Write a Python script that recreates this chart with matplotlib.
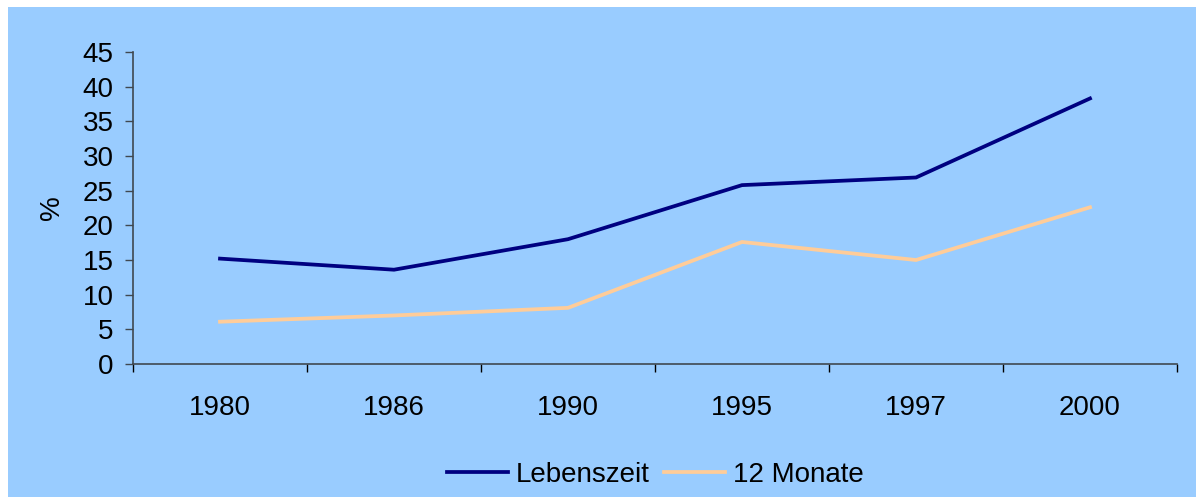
import numpy as np
import matplotlib.pyplot as plt
from matplotlib.patches import Rectangle
from matplotlib.ticker import FixedLocator, MultipleLocator

plt.rcParams['font.family'] = ['Liberation Sans', 'DejaVu Sans']

# data
years = ['1980', '1986', '1990', '1995', '1997', '2000']
lebenszeit = [15.2, 13.6, 18.0, 25.8, 26.9, 38.3]
monate_12 = [6.1, 7.0, 8.1, 17.6, 15.0, 22.6]

bg = '#99CCFF'
axis_col = '#404850'

fig = plt.figure(figsize=(11.96, 4.97), dpi=100)
fig.patch.set_facecolor('white')
# blue chart area (white strip on top and left like the original)
fig.patches.append(Rectangle((8 / 1196, 0), 1 - 8 / 1196, 1 - 7 / 497,
                             transform=fig.transFigure, facecolor=bg,
                             edgecolor='none', zorder=-10))

ax = fig.add_axes([133 / 1196, 1 - 364 / 497, (1177 - 133) / 1196, (364 - 52) / 497])
ax.set_facecolor(bg)
ax.set_zorder(5)

x = np.arange(len(years))
ax.plot(x, lebenszeit, color='#000080', lw=2.7, label='Lebenszeit', solid_joinstyle='miter')
ax.plot(x, monate_12, color='#FFCC99', lw=2.7, label='12 Monate', solid_joinstyle='miter')

ax.set_xlim(-0.5, len(years) - 0.5)
ax.set_ylim(0, 45)
ax.yaxis.set_major_locator(MultipleLocator(5))

ax.set_xticks(x)
ax.set_xticklabels(years)
ax.xaxis.set_minor_locator(FixedLocator(np.arange(-0.5, len(years), 1.0)))
ax.tick_params(axis='x', which='major', length=0, pad=22, labelsize=20)
ax.tick_params(axis='x', which='minor', length=6, width=1, color='black', direction='out')
ax.tick_params(axis='y', length=6, width=1, color=axis_col, labelsize=20, pad=8)

for side in ['top', 'right']:
    ax.spines[side].set_visible(False)
for side in ['left', 'bottom']:
    ax.spines[side].set_color(axis_col)
    ax.spines[side].set_linewidth(1.2)

fig.text(52 / 1196, 1 - 208 / 497, '%', rotation=90, fontsize=20,
         ha='center', va='center')

leg = fig.legend(loc='center', bbox_to_anchor=(0.548, 1 - 475 / 497), ncol=2,
                 frameon=False, fontsize=20, handlelength=2.2,
                 handletextpad=0.3, columnspacing=0.5)

fig.savefig('out.png', dpi=100, facecolor=fig.get_facecolor())
